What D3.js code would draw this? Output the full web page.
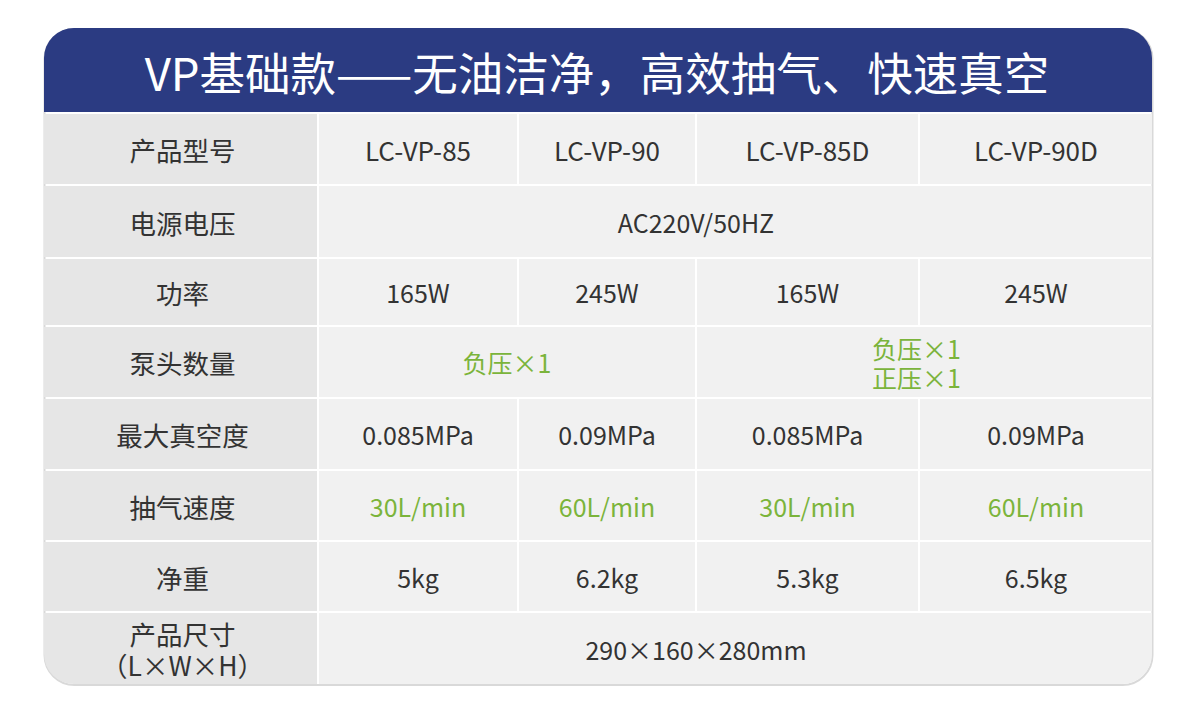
<!DOCTYPE html>
<html><head><meta charset="utf-8">
<script src="https://cdn.jsdelivr.net/npm/d3@7"></script>
<style>html,body{margin:0;padding:0;background:#fff;}svg{display:block;}</style>
</head><body>
<svg id="c" width="1200" height="727"></svg>
<script>
// ---- data ----
const title = "VP基础款——无油洁净，高效抽气、快速真空";
const rowLabels = ["产品型号","电源电压","功率","泵头数量","最大真空度","抽气速度","净重","产品尺寸|（L×W×H）"];
const models = ["LC-VP-85","LC-VP-90","LC-VP-85D","LC-VP-90D"];
const voltage = ["AC220V/50HZ"];
const power = ["165W","245W","165W","245W"];
const pumpHeads = ["负压×1","负压×1|正压×1"];
const vacuum = ["0.085MPa","0.09MPa","0.085MPa","0.09MPa"];
const speed = ["30L/min","60L/min","30L/min","60L/min"];
const weight = ["5kg","6.2kg","5.3kg","6.5kg"];
const dimensions = ["290×160×280mm"];

// ---- layout ----
const colEdges = [44, 319, 519, 697, 920, 1154];
const rowEdges = [114, 186, 259, 327, 399, 471, 542, 613, 686];
const card = {x:44, y:28, w:1108, h:656, r:30};
const headerBottom = 112;
const navy = "#2b3b82", green = "#7bb43b", dark = "#333333";
const font = "'Noto Sans CJK SC','Noto Sans',sans-serif";

const rows = [
  {vals: models, span: 1, color: dark, fs: 26},
  {vals: voltage, span: 4, color: dark, center: "mid"},
  {vals: power, span: 1, color: dark},
  {vals: pumpHeads, span: 2, color: green, dx: [0, -8]},
  {vals: vacuum, span: 1, color: dark},
  {vals: speed, span: 1, color: green},
  {vals: weight, span: 1, color: dark},
  {vals: dimensions, span: 4, color: dark, center: "mid"}
];

const svg = d3.select("#c");
const defs = svg.append("defs");
defs.append("clipPath").attr("id","cardClip").append("rect")
  .attr("x",card.x).attr("y",card.y).attr("width",card.w).attr("height",card.h)
  .attr("rx",card.r).attr("ry",card.r);

svg.append("rect")
  .attr("x",card.x+0.5).attr("y",card.y+1).attr("width",card.w).attr("height",card.h)
  .attr("rx",card.r).attr("ry",card.r)
  .attr("fill","none").attr("stroke","#d9d9d9").attr("stroke-width",2);

const g = svg.append("g").attr("clip-path","url(#cardClip)");

g.append("rect").attr("x",card.x).attr("y",card.y).attr("width",card.w)
  .attr("height",headerBottom-card.y).attr("fill",navy);
svg.append("text").text(title)
  .attr("x", (card.x*2+card.w)/2 - 1).attr("y", (card.y+headerBottom)/2 + 1)
  .attr("text-anchor","middle").attr("dominant-baseline","central")
  .attr("font-family",font).attr("font-size",45.5).attr("fill","#fff");

const ys = d3.scaleOrdinal().domain(d3.range(rowLabels.length)).range(rowEdges.slice(0,-1));

function drawText(sel, str, cx, cy, color, lh, fs){
  const lines = str.split("|");
  const t = sel.append("text")
    .attr("text-anchor","middle").attr("dominant-baseline","central")
    .attr("font-family",font).attr("font-size",fs).attr("fill",color);
  lines.forEach((ln,i)=>{
    t.append("tspan").text(ln)
      .attr("x",cx).attr("y", cy + (i-(lines.length-1)/2)*lh)
      .attr("dominant-baseline","central");
  });
}

rowLabels.forEach((lab,i)=>{
  const y0 = ys(i), y1 = rowEdges[i+1]-2;
  g.append("rect").attr("x",colEdges[0]).attr("y",y0)
    .attr("width",colEdges[1]-colEdges[0]-2).attr("height",y1-y0).attr("fill","#e6e6e6");
  drawText(svg, lab, (colEdges[0]+colEdges[1]-2)/2 + 2, (y0+y1)/2, dark, 31, 26.5);
});

rows.forEach((row,i)=>{
  const y0 = ys(i), y1 = rowEdges[i+1]-2;
  row.vals.forEach((v,j)=>{
    const c0 = 1 + j*row.span, c1 = c0 + row.span;
    const x0 = colEdges[c0], x1 = colEdges[c1]-2;
    g.append("rect").attr("x",x0).attr("y",y0).attr("width",x1-x0).attr("height",y1-y0).attr("fill","#f1f1f1");
    let cx = row.center === "mid" ? colEdges[3]-1 : (x0+x1)/2;
    if (row.dx) cx += row.dx[j];
    drawText(svg, v, cx, (y0+y1)/2, row.color, 29, row.fs || 25);
  });
});
</script>
</body></html>
